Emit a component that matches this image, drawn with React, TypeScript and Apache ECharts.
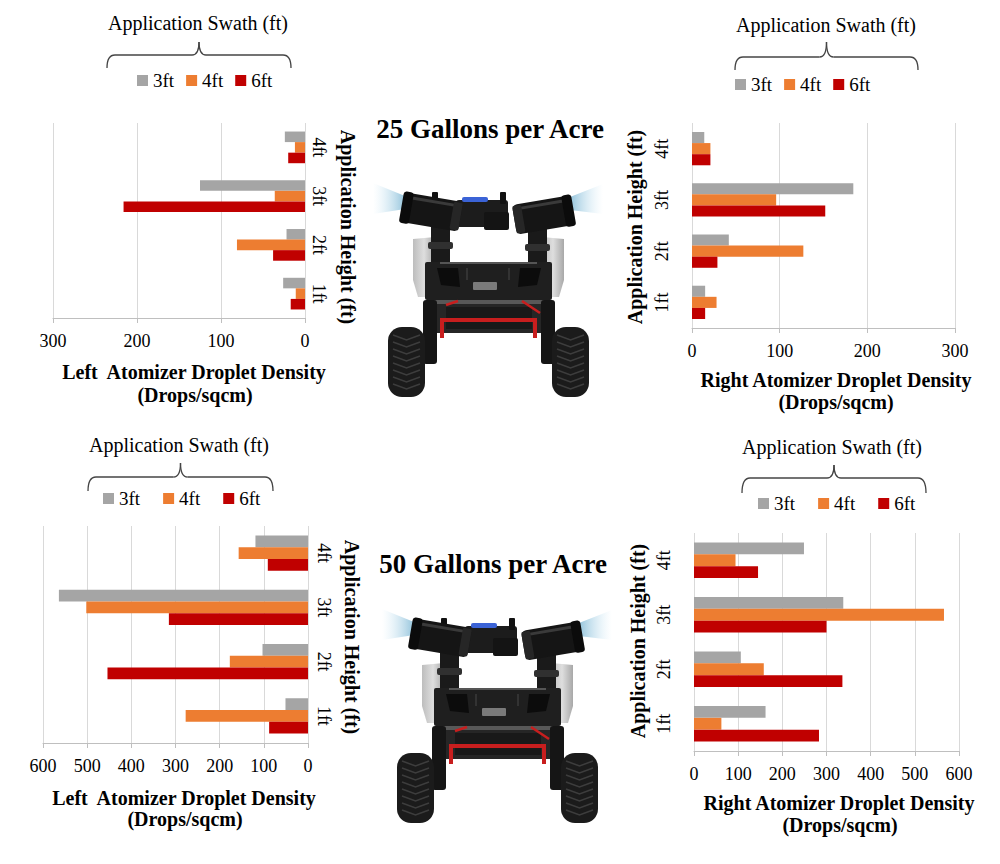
import { useEffect, useRef } from 'react'
import * as echarts from 'echarts'

// Application heights (category axis, bottom to top) and swath widths (series)
const heights = ['1ft', '2ft', '3ft', '4ft']
const swaths = ['3ft', '4ft', '6ft']
const swathColors = ['#A5A5A5', '#ED7D31', '#C00000']

// 25 gallons per acre - left atomizer (drops/sqcm), by height 1ft..4ft
const left25_3ft = [26, 22, 125, 24]
const left25_4ft = [11, 81, 36, 12]
const left25_6ft = [17, 38, 216, 20]
// 25 gallons per acre - right atomizer
const right25_3ft = [15, 42, 184, 14]
const right25_4ft = [28, 127, 96, 21]
const right25_6ft = [15, 29, 152, 21]
// 50 gallons per acre - left atomizer
const left50_3ft = [51, 103, 564, 119]
const left50_4ft = [277, 177, 502, 157]
const left50_6ft = [88, 454, 315, 91]
// 50 gallons per acre - right atomizer
const right50_3ft = [162, 106, 338, 249]
const right50_4ft = [62, 158, 566, 94]
const right50_6ft = [283, 336, 300, 145]

const max25 = 300
const max50 = 600
const tickStep = 100

const FONT = 'Liberation Serif, Times New Roman, serif'

const panels = [
  { side: 'left', left: 53, top: 123, width: 252, height: 195, max: max25, data: [left25_3ft, left25_4ft, left25_6ft], legend: [137, 71, 12], catMargin: 5 },
  { side: 'right', left: 692, top: 123, width: 263, height: 205, max: max25, data: [right25_3ft, right25_4ft, right25_6ft], legend: [735, 75, 12], catMargin: 21 },
  { side: 'left', left: 43, top: 526, width: 265, height: 217, max: max50, data: [left50_3ft, left50_4ft, left50_6ft], legend: [103, 489, 23], catMargin: 7 },
  { side: 'right', left: 694, top: 533, width: 265, height: 218, max: max50, data: [right50_3ft, right50_4ft, right50_6ft], legend: [758, 494, 23], catMargin: 21 },
]

function text(x: number, y: number, t: string, size: number, weight: string, rotation = 0) {
  return {
    type: 'text',
    x,
    y,
    rotation,
    style: {
      text: t,
      fontSize: size,
      fontWeight: weight,
      fontFamily: FONT,
      fill: '#000',
      align: 'center',
      verticalAlign: 'middle',
    },
  }
}

function brace(x1: number, x2: number, yTop: number, yEnd: number, yPeak: number) {
  const xc = (x1 + x2) / 2
  const s = { stroke: '#444', lineWidth: 1.3, fill: 'none' }
  return [
    { type: 'bezierCurve', shape: { x1, y1: yEnd, cpx1: x1, cpy1: yTop, x2: x1 + 8, y2: yTop }, style: s },
    { type: 'line', shape: { x1: x1 + 8, y1: yTop, x2: xc - 7, y2: yTop }, style: s },
    { type: 'bezierCurve', shape: { x1: xc - 7, y1: yTop, cpx1: xc, cpy1: yTop, x2: xc, y2: yPeak }, style: s },
    { type: 'bezierCurve', shape: { x1: xc + 7, y1: yTop, cpx1: xc, cpy1: yTop, x2: xc, y2: yPeak }, style: s },
    { type: 'line', shape: { x1: xc + 7, y1: yTop, x2: x2 - 8, y2: yTop }, style: s },
    { type: 'bezierCurve', shape: { x1: x2, y1: yEnd, cpx1: x2, cpy1: yTop, x2: x2 - 8, y2: yTop }, style: s },
  ]
}

function wheel(x: number, y: number) {
  const kids: any[] = [
    { type: 'rect', shape: { x, y, width: 37, height: 70, r: 14 }, style: { fill: '#1b1b1b' } },
  ]
  for (let ty = y + 8; ty < y + 62; ty += 7) {
    kids.push({
      type: 'polyline',
      shape: { points: [[x + 5, ty], [x + 18.5, ty + 5], [x + 32, ty]] },
      style: { stroke: '#3d3d3d', lineWidth: 1.6, fill: 'none' },
    })
  }
  return kids
}

function nozzle(cx: number, cy: number, rot: number, outerLeft: boolean) {
  const rim = outerLeft ? -31 : 21
  const mount = outerLeft ? 20 : -29
  return {
    type: 'group',
    x: cx,
    y: cy,
    rotation: rot,
    children: [
      { type: 'rect', shape: { x: -29, y: -15, width: 58, height: 30, r: 5 }, style: { fill: '#151515' } },
      { type: 'rect', shape: { x: -22, y: -12, width: 44, height: 3 }, style: { fill: '#3a3a3a' } },
      { type: 'rect', shape: { x: rim, y: -16, width: 10, height: 32, r: 3 }, style: { fill: '#0b0b0b' } },
      { type: 'rect', shape: { x: mount, y: -14, width: 9, height: 28, r: 2 }, style: { fill: '#262626' } },
    ],
  }
}

function robot(dx: number, dy: number) {
  const coneL = new echarts.graphic.LinearGradient(1, 0, 0, 0, [
    { offset: 0, color: 'rgba(120,180,210,0.8)' },
    { offset: 1, color: 'rgba(200,230,245,0)' },
  ])
  const coneR = new echarts.graphic.LinearGradient(0, 0, 1, 0, [
    { offset: 0, color: 'rgba(120,180,210,0.8)' },
    { offset: 1, color: 'rgba(200,230,245,0)' },
  ])
  const tank = new echarts.graphic.LinearGradient(0, 0, 1, 0, [
    { offset: 0, color: '#bdbdbd' },
    { offset: 0.5, color: '#dedede' },
    { offset: 1, color: '#a8a8a8' },
  ])
  return {
    type: 'group',
    x: dx,
    y: dy,
    children: [
      { type: 'polygon', shape: { points: [[405, 196], [405, 209], [373, 214], [373, 183]] }, style: { fill: coneL } },
      { type: 'polygon', shape: { points: [[570, 197], [570, 210], [603, 214], [603, 184]] }, style: { fill: coneR } },
      { type: 'polygon', shape: { points: [[413, 239], [435, 237], [435, 297], [418, 297], [413, 280]] }, style: { fill: tank } },
      { type: 'polygon', shape: { points: [[542, 237], [564, 239], [564, 280], [559, 297], [542, 297]] }, style: { fill: tank } },
      { type: 'rect', shape: { x: 431, y: 225, width: 19, height: 42 }, style: { fill: '#1a1a1a' } },
      { type: 'rect', shape: { x: 428, y: 242, width: 25, height: 7, r: 2 }, style: { fill: '#303030' } },
      { type: 'rect', shape: { x: 528, y: 227, width: 19, height: 40 }, style: { fill: '#1a1a1a' } },
      { type: 'rect', shape: { x: 525, y: 244, width: 25, height: 7, r: 2 }, style: { fill: '#303030' } },
      { type: 'rect', shape: { x: 425, y: 262, width: 127, height: 38, r: 2 }, style: { fill: '#1f1f1f' } },
      { type: 'rect', shape: { x: 440, y: 262, width: 97, height: 2 }, style: { fill: '#555' } },
      { type: 'polygon', shape: { points: [[437, 268], [458, 268], [460, 287], [441, 285]] }, style: { fill: '#0c0c0c' } },
      { type: 'polygon', shape: { points: [[520, 268], [541, 268], [537, 285], [518, 287]] }, style: { fill: '#0c0c0c' } },
      { type: 'rect', shape: { x: 473, y: 282, width: 24, height: 8, r: 1 }, style: { fill: '#7a7a7a' } },
      { type: 'rect', shape: { x: 466, y: 268, width: 2, height: 12 }, style: { fill: '#333' } },
      { type: 'rect', shape: { x: 508, y: 268, width: 2, height: 12 }, style: { fill: '#333' } },
      { type: 'rect', shape: { x: 428, y: 300, width: 121, height: 33 }, style: { fill: '#262626' } },
      { type: 'rect', shape: { x: 430, y: 300, width: 117, height: 4 }, style: { fill: '#585858' } },
      { type: 'rect', shape: { x: 446, y: 307, width: 86, height: 22 }, style: { fill: '#191919' } },
      { type: 'line', shape: { x1: 446, y1: 305, x2: 458, y2: 301 }, style: { stroke: '#c81e1e', lineWidth: 2.5 } },
      { type: 'line', shape: { x1: 522, y1: 301, x2: 540, y2: 313 }, style: { stroke: '#c81e1e', lineWidth: 2.5 } },
      { type: 'polyline', shape: { points: [[442, 338], [442, 320], [535, 320], [535, 338]] }, style: { stroke: '#c81e1e', lineWidth: 4, fill: 'none' } },
      { type: 'rect', shape: { x: 423, y: 300, width: 14, height: 64, r: 3 }, style: { fill: '#151515' } },
      { type: 'rect', shape: { x: 541, y: 300, width: 14, height: 64, r: 3 }, style: { fill: '#151515' } },
      ...wheel(388, 327),
      ...wheel(552, 327),
      { type: 'rect', shape: { x: 456, y: 200, width: 52, height: 27, r: 3 }, style: { fill: '#1c1c1c' } },
      { type: 'rect', shape: { x: 484, y: 212, width: 25, height: 18, r: 2 }, style: { fill: '#141414' } },
      { type: 'rect', shape: { x: 462, y: 197, width: 26, height: 5, r: 2 }, style: { fill: '#3b63d6' } },
      { type: 'rect', shape: { x: 432, y: 192, width: 6, height: 12, r: 1 }, style: { fill: '#111' } },
      { type: 'rect', shape: { x: 500, y: 192, width: 6, height: 12, r: 1 }, style: { fill: '#111' } },
      nozzle(432, 212, -0.17, true),
      nozzle(543, 215, 0.17, false),
    ],
  }
}

export default function App() {
  const chartRef = useRef<HTMLDivElement>(null)

  useEffect(() => {
    if (!chartRef.current) return
    const chart = echarts.init(chartRef.current, null, { renderer: 'svg' })

    const grid = panels.map(p => ({
      left: p.left,
      top: p.top,
      width: p.width,
      height: p.height,
      containLabel: false,
      outerBoundsMode: 'none',
    }))

    const xAxis = panels.map((p, i) => ({
      type: 'value',
      gridIndex: i,
      min: 0,
      max: p.max,
      interval: tickStep,
      inverse: p.side === 'left',
      axisLine: { show: true, lineStyle: { color: '#bfbfbf' } },
      axisTick: { show: true, length: 5, lineStyle: { color: '#bfbfbf' } },
      axisLabel: { fontSize: 18, fontFamily: FONT, color: '#000', margin: 14 },
      splitLine: { show: true, lineStyle: { color: '#d9d9d9' } },
    }))

    const yAxis = panels.map((p, i) => ({
      type: 'category',
      gridIndex: i,
      data: heights,
      position: p.side === 'left' ? 'right' : 'left',
      axisLine: { show: false },
      axisTick: { show: false },
      axisLabel: {
        fontSize: 18,
        fontFamily: FONT,
        color: '#000',
        rotate: p.side === 'left' ? -90 : 90,
        margin: p.catMargin,
      },
    }))

    const series: any[] = []
    panels.forEach((p, i) => {
      swaths.forEach((s, j) => {
        series.push({
          type: 'bar',
          name: s,
          xAxisIndex: i,
          yAxisIndex: i,
          data: p.data[j],
          barGap: '0%',
          barCategoryGap: '35%',
          itemStyle: { color: swathColors[j] },
        })
      })
    })

    const legend = panels.map(p => ({
      data: swaths,
      left: p.legend[0],
      top: p.legend[1],
      itemGap: p.legend[2],
      itemWidth: 11,
      itemHeight: 11,
      icon: 'rect',
      padding: 0,
      selectedMode: false,
      textStyle: { fontSize: 19, fontFamily: FONT, color: '#000' },
    }))

    const graphic: any[] = [
      text(490, 129, '25 Gallons per Acre', 27, 'bold'),
      text(493, 564, '50 Gallons per Acre', 27, 'bold'),
      text(198, 23, 'Application Swath (ft)', 20, 'normal'),
      text(826, 25, 'Application Swath (ft)', 20, 'normal'),
      text(179, 445, 'Application Swath (ft)', 20, 'normal'),
      text(832, 447, 'Application Swath (ft)', 20, 'normal'),
      ...brace(107, 291, 55, 68, 42),
      ...brace(735, 918, 57, 70, 42),
      ...brace(88, 273, 477, 491, 463),
      ...brace(742, 926, 478, 493, 465),
      text(194, 372, 'Left  Atomizer Droplet Density', 20, 'bold'),
      text(195, 395, '(Drops/sqcm)', 20, 'bold'),
      text(836, 380, 'Right Atomizer Droplet Density', 20, 'bold'),
      text(836, 402, '(Drops/sqcm)', 20, 'bold'),
      text(184, 798, 'Left  Atomizer Droplet Density', 20, 'bold'),
      text(185, 819, '(Drops/sqcm)', 20, 'bold'),
      text(839, 803, 'Right Atomizer Droplet Density', 20, 'bold'),
      text(840, 825, '(Drops/sqcm)', 20, 'bold'),
      text(348, 227, 'Application Height (ft)', 20, 'bold', -Math.PI / 2),
      text(635, 227, 'Application Height (ft)', 20, 'bold', Math.PI / 2),
      text(352, 637, 'Application Height (ft)', 20, 'bold', -Math.PI / 2),
      text(638, 641, 'Application Height (ft)', 20, 'bold', Math.PI / 2),
      robot(0, 0),
      robot(9, 426),
    ]

    chart.setOption({
      animation: false,
      backgroundColor: '#fff',
      grid,
      xAxis,
      yAxis,
      series,
      legend,
      graphic,
    })

    return () => {
      chart.dispose()
    }
  }, [])

  return (
    <div
      ref={chartRef}
      style={{ position: 'absolute', left: 0, top: 0, width: 1000, height: 864 }}
    />
  )
}
